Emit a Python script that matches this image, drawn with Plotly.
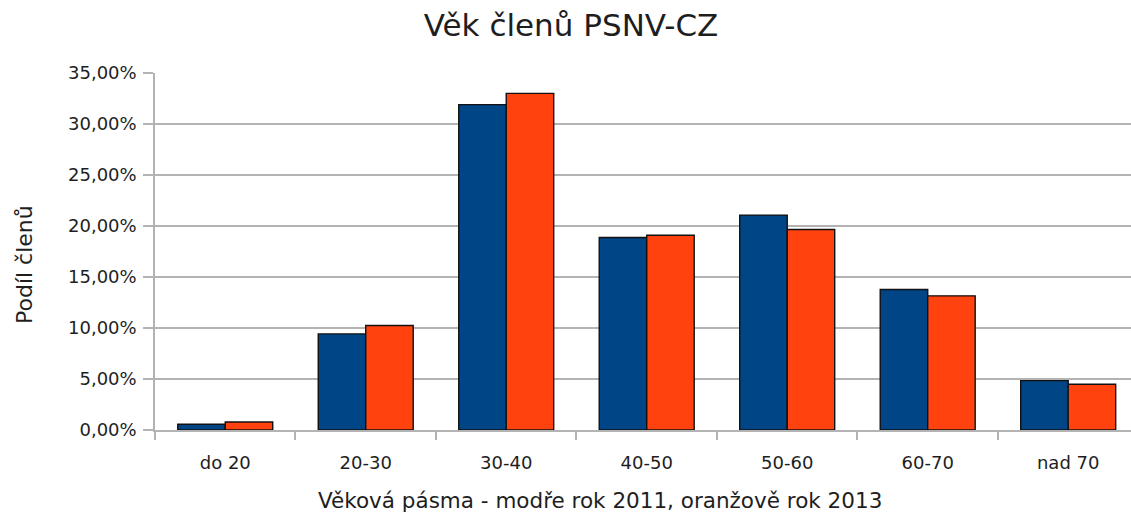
import plotly.graph_objects as go

categories = ["do 20", "20-30", "30-40", "40-50", "50-60", "60-70", "nad 70"]
share_2011 = [0.0056, 0.0942, 0.3190, 0.1887, 0.2107, 0.1377, 0.0484]
share_2013 = [0.0078, 0.1024, 0.3300, 0.1910, 0.1966, 0.1315, 0.0448]
y_ticks = [0, 0.05, 0.10, 0.15, 0.20, 0.25, 0.30, 0.35]

W, H = 1131, 515
L, R, T, B = 155, 0, 73, 85
pw = W - L - R
ph = H - T - B

font_family = "DejaVu Sans"
text_color = "#1e1e1e"
grid_color = "#b3b3b3"

fig = go.Figure()
fig.add_trace(go.Bar(name="2011", x=categories, y=share_2011,
                     marker=dict(color="#004586", line=dict(color="#111111", width=1.4))))
fig.add_trace(go.Bar(name="2013", x=categories, y=share_2013,
                     marker=dict(color="#ff420e", line=dict(color="#111111", width=1.4))))

fig.update_layout(
    width=W, height=H,
    margin=dict(l=L, r=R, t=T, b=B, pad=0),
    paper_bgcolor="white", plot_bgcolor="white",
    barmode="group", bargap=0.324, bargroupgap=0,
    showlegend=False,
    separators=", ",
    font=dict(family=font_family, color=text_color, size=18),
    title=dict(text="Věk členů PSNV-CZ", x=571 / W, xref="container", xanchor="center",
               y=1 - 25 / H, yref="container", yanchor="middle",
               font=dict(family=font_family, size=31, color=text_color)),
)

fig.update_xaxes(
    type="category", range=[-0.5, 6.447],
    tickson="boundaries", ticks="outside", ticklen=8, tickcolor=grid_color, tickwidth=1.5,
    showline=True, linecolor=grid_color, linewidth=1.5,
    showgrid=False, tickfont=dict(size=18, color=text_color),
    ticklabelstandoff=16,
)
fig.update_yaxes(
    range=[0, 0.35], tickvals=y_ticks, tickformat=".2%",
    ticks="outside", ticklen=10, tickcolor=grid_color, tickwidth=1.5,
    showline=True, linecolor=grid_color, linewidth=1.5,
    showgrid=True, gridcolor=grid_color, gridwidth=1.5,
    zeroline=False, tickfont=dict(size=18, color=text_color),
    ticklabelstandoff=3,
)

fig.add_annotation(text="Podíl členů", xref="paper", yref="paper",
                   x=(24 - L) / pw, y=(H - B - 265) / ph, xanchor="center", yanchor="middle",
                   textangle=-90, showarrow=False, font=dict(size=22, color=text_color))
fig.add_annotation(text="Věková pásma - modře rok 2011, oranžově rok 2013", xref="paper", yref="paper",
                   x=(599.5 - L) / pw, y=(H - B - 500) / ph, xanchor="center", yanchor="middle",
                   showarrow=False, font=dict(size=21.5, color=text_color))

fig.write_html("out.html", config={"displayModeBar": False},
               post_script="document.body.style.margin='0px';document.body.style.overflow='hidden';")
